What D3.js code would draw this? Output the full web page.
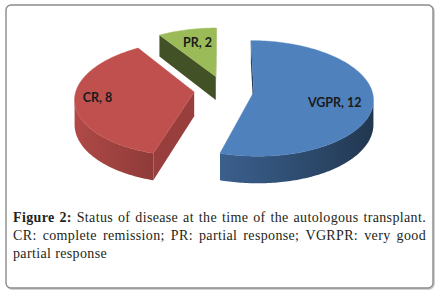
<!DOCTYPE html>
<html>
<head>
<meta charset="utf-8">
<script src="https://cdn.jsdelivr.net/npm/d3@7/dist/d3.min.js"></script>
<style>
  html, body { margin: 0; padding: 0; background: #ffffff; }
  svg { display: block; }
</style>
</head>
<body>
<script>
// ---------- data ----------
const categories = ["VGPR", "CR", "PR"];
const values = [12, 8, 2];
const colors = ["#4F81BD", "#C0504D", "#9BBB59"];
const captionLabel = "Figure 2:";
const captionLines = [
  "Status of disease at the time of the autologous transplant.",
  "CR: complete remission; PR: partial response; VGRPR: very good",
  "partial response"
];

// ---------- layout ----------
const W = 438, H = 294;
const Cx = 224, Cy = 90;      // pie centre on screen
const R = 118;                // radius (world units)
const K = 0.48;               // vertical squash of the tilted disc
const P = 0.11;               // perspective strength
const EXPLODE = 30;           // explosion distance
const DEPTH = 24;             // slice thickness
const labelR = [0.68, 0.81, 0.62];
const labelDy = [9.5, 3.2, 0.6];

const svg = d3.select("body").append("svg")
  .attr("width", W).attr("height", H);
const defs = svg.append("defs");

// frame
svg.append("rect")
  .attr("x", 7).attr("y", 6).attr("width", 427).attr("height", 283)
  .attr("rx", 5).attr("fill", "none").attr("stroke", "#c4c4c4").attr("stroke-width", 1.5);
svg.append("rect")
  .attr("x", 6).attr("y", 5).attr("width", 427).attr("height", 283)
  .attr("rx", 5).attr("fill", "#ffffff").attr("stroke", "#8c8c8c").attr("stroke-width", 1.4);

function proj(u, w, z) {
  const v = w / R;
  const s = 1 / (1 - P * v);
  return [Cx + s * u, Cy + s * (w * K + z)];
}

const arcs = d3.pie().sort(null).value(d => d)(values);

const slices = arcs.map((a, i) => {
  const mid = (a.startAngle + a.endAngle) / 2;
  return {
    i, a0: a.startAngle, a1: a.endAngle, mid,
    ox: EXPLODE * Math.sin(mid),
    ow: -EXPLODE * Math.cos(mid)
  };
});

function ptW(sl, th, r) {
  return [sl.ox + r * Math.sin(th), sl.ow - r * Math.cos(th)];
}
function pt(sl, th, r, z) {
  const [u, w] = ptW(sl, th, r);
  return proj(u, w, z);
}
function signedArea(poly) {
  let s = 0;
  for (let j = 0; j < poly.length; j++) {
    const p1 = poly[j], p2 = poly[(j + 1) % poly.length];
    s += p1[0] * p2[1] - p2[0] * p1[1];
  }
  return s;
}
function shade(col, f) {
  const c = d3.rgb(col);
  return d3.rgb(c.r * f, c.g * f, c.b * f).formatHex();
}
const rimFactor = th => 0.67 - 0.26 * Math.sin(th);

const line = d3.line();
const gPie = svg.append("g");

// draw far slices first
const order = slices.slice().sort((a, b) => a.ow - b.ow);

order.forEach(sl => {
  const base = colors[sl.i];
  const faces = [];
  const span = sl.a1 - sl.a0;

  // rim: find visible runs of angles
  const n = Math.max(4, Math.ceil(span / (0.5 * Math.PI / 180)));
  const runs = [];
  let cur = null;
  for (let j = 0; j < n; j++) {
    const t0 = sl.a0 + span * j / n, t1 = sl.a0 + span * (j + 1) / n;
    const poly = [pt(sl, t0, R, 0), pt(sl, t1, R, 0), pt(sl, t1, R, DEPTH), pt(sl, t0, R, DEPTH)];
    if (signedArea(poly) < 0) {
      if (!cur) { cur = { t0, t1 }; runs.push(cur); } else cur.t1 = t1;
    } else cur = null;
  }
  runs.forEach((run, ri) => {
    const steps = Math.max(2, Math.ceil((run.t1 - run.t0) / (Math.PI / 180)));
    const topPts = [], botPts = [];
    for (let j = 0; j <= steps; j++) {
      const t = run.t0 + (run.t1 - run.t0) * j / steps;
      topPts.push(pt(sl, t, R, 0));
      botPts.push(pt(sl, t, R, DEPTH));
    }
    const poly = topPts.concat(botPts.reverse());
    // gradient along screen x
    const gid = "rim" + sl.i + "_" + ri;
    const xs = topPts.map(p => p[0]);
    const xa = d3.min(xs), xb = d3.max(xs);
    const grad = defs.append("linearGradient")
      .attr("id", gid).attr("gradientUnits", "userSpaceOnUse")
      .attr("x1", xa).attr("y1", 0).attr("x2", xb).attr("y2", 0);
    const ns = 12;
    const samples = [];
    for (let j = 0; j <= ns; j++) {
      const t = run.t0 + (run.t1 - run.t0) * j / ns;
      samples.push({ x: pt(sl, t, R, 0)[0], c: shade(base, rimFactor(t)) });
    }
    samples.sort((a, b) => a.x - b.x);
    samples.forEach(s => grad.append("stop")
      .attr("offset", xb > xa ? (s.x - xa) / (xb - xa) : 0)
      .attr("stop-color", s.c));
    const tm = (run.t0 + run.t1) / 2;
    faces.push({ poly, fill: "url(#" + gid + ")", depth: ptW(sl, tm, R)[1] });
  });

  // cut faces
  const apexT = proj(sl.ox, sl.ow, 0), apexB = proj(sl.ox, sl.ow, DEPTH);
  const f0 = [apexT, pt(sl, sl.a0, R, 0), pt(sl, sl.a0, R, DEPTH), apexB];
  const n0 = -Math.cos(sl.a0);
  if (signedArea(f0) < 0)
    faces.push({ poly: f0, fill: shade(base, 0.6 + 0.2 * n0), depth: ptW(sl, sl.a0, R / 2)[1] });
  const f1 = [apexT, apexB, pt(sl, sl.a1, R, DEPTH), pt(sl, sl.a1, R, 0)];
  const n1 = Math.cos(sl.a1);
  if (signedArea(f1) < 0)
    faces.push({ poly: f1, fill: shade(base, 0.6 + 0.2 * n1), depth: ptW(sl, sl.a1, R / 2)[1] });

  faces.sort((a, b) => a.depth - b.depth);
  faces.forEach(fc => {
    gPie.append("path")
      .attr("d", line(fc.poly) + "Z")
      .attr("fill", fc.fill)
      .attr("stroke", "none");
  });

  // top
  const top = [apexT];
  const m = Math.ceil(span / (Math.PI / 180));
  for (let j = 0; j <= m; j++) top.push(pt(sl, sl.a0 + span * j / m, R, 0));
  gPie.append("path")
    .attr("d", line(top) + "Z")
    .attr("fill", base)
    .attr("stroke", base)
    .attr("stroke-width", 0.5)
    .attr("stroke-linejoin", "round");
});

// labels
slices.forEach(sl => {
  const [x, y] = pt(sl, sl.mid, R * labelR[sl.i], 0);
  svg.append("text")
    .attr("x", x).attr("y", y + labelDy[sl.i])
    .attr("text-anchor", "middle")
    .attr("font-family", "Lato, 'Open Sans', sans-serif")
    .attr("font-weight", "bold")
    .attr("font-size", 12.5)
    .attr("fill", "#1a1a1a")
    .text(categories[sl.i] + ", " + values[sl.i]);
});

// caption (justified)
const capX0 = 13, capX1 = 426;
const baselines = [222, 240, 257.5];
const capG = svg.append("g")
  .attr("font-family", "'Liberation Serif', 'Times New Roman', serif")
  .attr("font-size", 14)
  .attr("letter-spacing", 0.35)
  .attr("fill", "#231f20");

captionLines.forEach((ln, li) => {
  let words = ln.split(" ").map(t => ({ t, b: false }));
  if (li === 0) words = captionLabel.split(" ").map(t => ({ t, b: true })).concat(words);
  const els = words.map(wd => capG.append("text")
    .attr("y", baselines[li])
    .attr("font-weight", wd.b ? "bold" : "normal")
    .text(wd.t));
  const widths = els.map(e => e.node().getComputedTextLength());
  const total = d3.sum(widths);
  const last = li === captionLines.length - 1;
  let gap = (capX1 - capX0 - total) / (words.length - 1);
  if (last || gap < 2) gap = 4;
  let x = capX0;
  els.forEach((e, j) => { e.attr("x", x); x += widths[j] + gap; });
});
</script>
</body>
</html>
